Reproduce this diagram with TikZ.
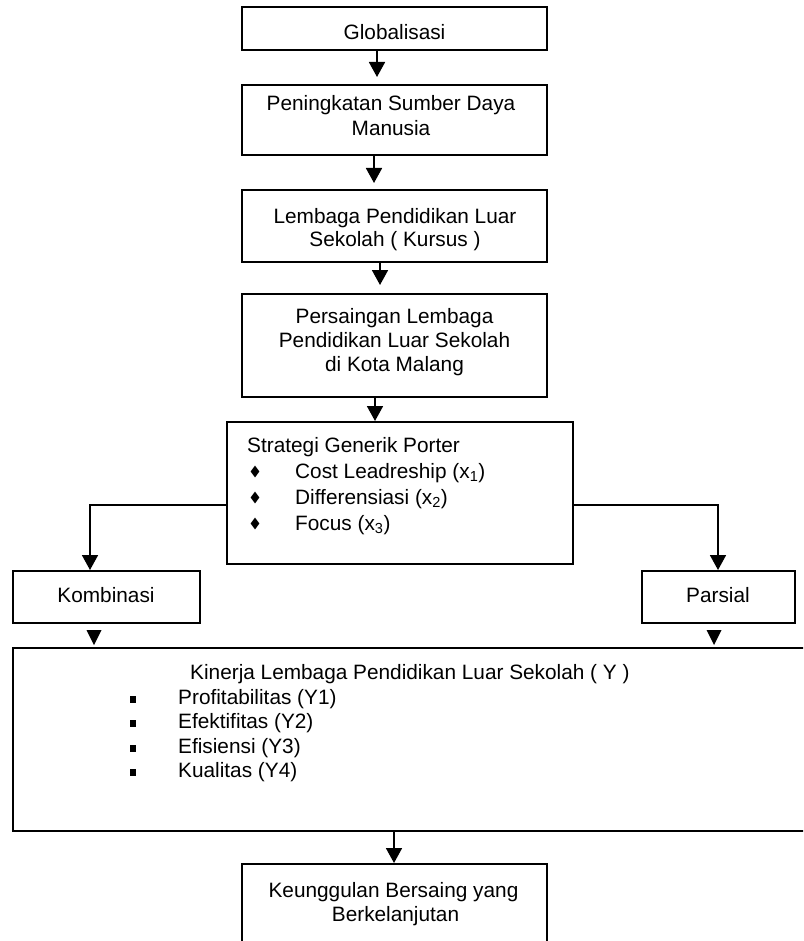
\documentclass[tikz,border=0pt]{standalone}
\usepackage{fontspec}
\setmainfont{Liberation Sans}
\usetikzlibrary{arrows.meta,shapes.geometric}
\begin{document}
\begin{tikzpicture}[x=1pt,y=-1pt,
  box/.style={draw, line width=1.8pt, rectangle, anchor=north west, inner sep=0pt, outer sep=0pt},
  txt/.style={anchor=base, inner sep=0pt, font=\fontsize{20.8}{24}\selectfont},
  ltxt/.style={anchor=base west, inner sep=0pt, font=\fontsize{20.8}{24}\selectfont},
  arr/.style={line width=1.8pt, -{Triangle[length=15pt,width=16pt]}},
  dia/.style={diamond, fill, inner sep=0pt, minimum width=9pt, minimum height=12pt},
  sq/.style={rectangle, fill, inner sep=0pt, minimum width=6pt, minimum height=7pt}]
\useasboundingbox (0,0) rectangle (803,941);
\clip (0,0) rectangle (803,941);

% boxes
\node[box, minimum width=305pt, minimum height=43pt] (b1) at (242,7) {};
\node[box, minimum width=305pt, minimum height=70pt] (b2) at (242,85) {};
\node[box, minimum width=305pt, minimum height=72pt] (b3) at (242,190) {};
\node[box, minimum width=305pt, minimum height=103pt] (b4) at (242,294) {};
\node[box, minimum width=346pt, minimum height=142pt] (b5) at (227,422) {};
\node[box, minimum width=187pt, minimum height=52pt] (kom) at (13,571) {};
\node[box, minimum width=153pt, minimum height=52pt] (par) at (642,571) {};
\node[box, minimum width=800pt, minimum height=183pt] (kin) at (13,648) {};
\node[box, minimum width=305pt, minimum height=110pt] (b6) at (242,864) {};

% texts
\node[txt] (tg) at (394.5,40) {Globalisasi};
\node[txt] (tp1) at (391,111) {Peningkatan Sumber Daya};
\node[txt] (tp2) at (391,136) {Manusia};
\node[txt] (tl1) at (395,223) {Lembaga Pendidikan Luar};
\node[txt] (tl2) at (395,247) {Sekolah ( Kursus )};
\node[txt] (ts1) at (394.5,323) {Persaingan Lembaga};
\node[txt] (ts2) at (394.5,347) {Pendidikan Luar Sekolah};
\node[txt] (ts3) at (394.5,371) {di Kota Malang};

\node[ltxt] (sg) at (247,452) {Strategi Generik Porter};
\node[ltxt] (s1) at (295,478) {Cost Leadreship (x\textsubscript{1})};
\node[ltxt] (s2) at (295,504) {Differensiasi (x\textsubscript{2})};
\node[ltxt] (s3) at (295,530) {Focus (x\textsubscript{3})};
\node[dia] (d1) at (255,471.5) {};
\node[dia] (d2) at (255,497.5) {};
\node[dia] (d3) at (255,523.5) {};

\node[txt] (tk) at (106,602) {Kombinasi};
\node[txt] (tpa) at (718,602) {Parsial};

\node[ltxt] (ki) at (190,679) {Kinerja Lembaga Pendidikan Luar Sekolah ( Y )};
\node[ltxt] (k1) at (178,704) {Profitabilitas (Y1)};
\node[ltxt] (k2) at (178,728) {Efektifitas (Y2)};
\node[ltxt] (k3) at (178,753) {Efisiensi (Y3)};
\node[ltxt] (k4) at (178,777) {Kualitas (Y4)};
\node[sq] (q1) at (133,699) {};
\node[sq] (q2) at (133,723) {};
\node[sq] (q3) at (133,748) {};
\node[sq] (q4) at (133,772) {};

\node[txt] (tu1) at (393.5,897) {Keunggulan Bersaing yang};
\node[txt] (tu2) at (395.5,921) {Berkelanjutan};

% connectors
\coordinate (a1) at (377,0);
\coordinate (a2) at (374,0);
\coordinate (a3) at (380,0);
\coordinate (a4) at (375,0);
\coordinate (a6) at (394,0);
\draw[arr, shorten >=8pt] (b1.south -| a1) -- (b2.north -| a1);
\draw[arr, shorten >=7pt] (b2.south -| a2) -- (b3.north -| a2);
\draw[arr, shorten >=9pt] (b3.south -| a3) -- (b4.north -| a3);
\draw[arr, shorten >=1pt] (b4.south -| a4) -- (b5.north -| a4);
\draw[arr, shorten >=1pt] (kin.south -| a6) -- (b6.north -| a6);

\coordinate (jl) at (90,505);
\coordinate (jr) at (718,505);
\draw[arr, shorten >=1pt] (b5.west |- jl) -| (kom.north -| jl);
\draw[arr, shorten >=1pt] (b5.east |- jr) -| (par.north -| jr);

% stand-alone arrowheads
\coordinate (t1) at (94,645);
\coordinate (t2) at (714,645);
\fill (t1) -- ++(-7.5,-15) -- ++(15,0) -- cycle;
\fill (t2) -- ++(-7.5,-15) -- ++(15,0) -- cycle;
\end{tikzpicture}
\end{document}
